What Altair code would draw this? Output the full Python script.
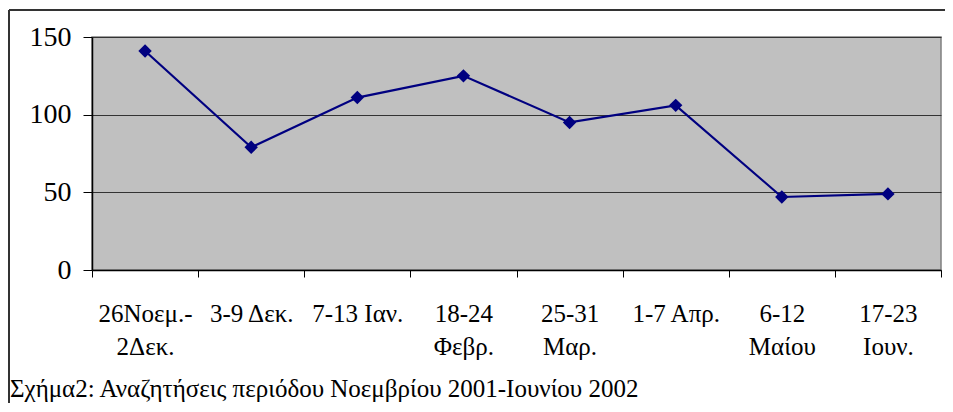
import altair as alt
import pandas as pd

categories = ["26Noεμ.-|2Δεκ.", "3-9 Δεκ.", "7-13 Ιαν.", "18-24|Φεβρ.",
              "25-31|Μαρ.", "1-7 Απρ.", "6-12|Μαίου", "17-23|Ιουν."]
values = [141, 79, 111, 125, 95, 106, 47, 49]
y_ticks = [0, 50, 100, 150]
caption = "Σχήμα2: Αναζητήσεις περιόδου Νοεμβρίου 2001-Ιουνίου 2002"

df = pd.DataFrame({"cat": categories, "val": values})

W, H = 849, 233
FONT = "'Liberation Serif', 'DejaVu Serif', serif"

x_enc = alt.X("cat:N", sort=categories, title=None,
              scale=alt.Scale(type="band", paddingInner=0, paddingOuter=0),
              axis=alt.Axis(tickBand="extent", labelExpr="split(datum.label, '|')",
                            labelAngle=0, labelFont=FONT, labelFontSize=25,
                            labelColor="black", labelLineHeight=33, labelPadding=24,
                            tickSize=7, tickColor="black", domainColor="black",
                            domainWidth=1.5, grid=False, labelBaseline="top"))
y_enc = alt.Y("val:Q", title=None,
              scale=alt.Scale(domain=[0, 150], nice=False),
              axis=alt.Axis(values=y_ticks, labelFont=FONT, labelFontSize=28,
                            labelColor="black", labelPadding=12, tickSize=9,
                            tickColor="black", domainColor="black", domainWidth=1.5,
                            grid=True, gridColor="#333333", gridWidth=1))

line = alt.Chart(df).mark_line(color="#000080", strokeWidth=2.2,
                               point=alt.OverlayMarkDef(shape="diamond", size=180,
                                                        filled=True, color="#000080",
                                                        opacity=1)).encode(x=x_enc, y=y_enc)

top_border = alt.Chart(df).mark_rule(color="#333333", strokeWidth=2).encode(
    x=alt.value(-83), x2=alt.value(W + 10), y=alt.value(-27))
left_border = alt.Chart(df).mark_rule(color="#333333", strokeWidth=2).encode(
    x=alt.value(-83), y=alt.value(-27), y2=alt.value(H + 140))

caption_text = alt.Chart(pd.DataFrame({"t": [caption]})).mark_text(
    align="left", baseline="middle", font=FONT, fontSize=25, color="black"
).encode(x=alt.value(-82), y=alt.value(H + 119), text="t:N")

chart = alt.layer(line, top_border, left_border, caption_text).properties(
    width=W, height=H,
    autosize=alt.AutoSizeParams(type="none"),
    padding={"left": 84, "top": 29, "right": 4, "bottom": 133},
    background="white",
).configure_view(stroke="#808080", strokeWidth=1.5, fill="#c0c0c0")

chart.save("out.html", embed_options={"renderer": "svg", "actions": False})
